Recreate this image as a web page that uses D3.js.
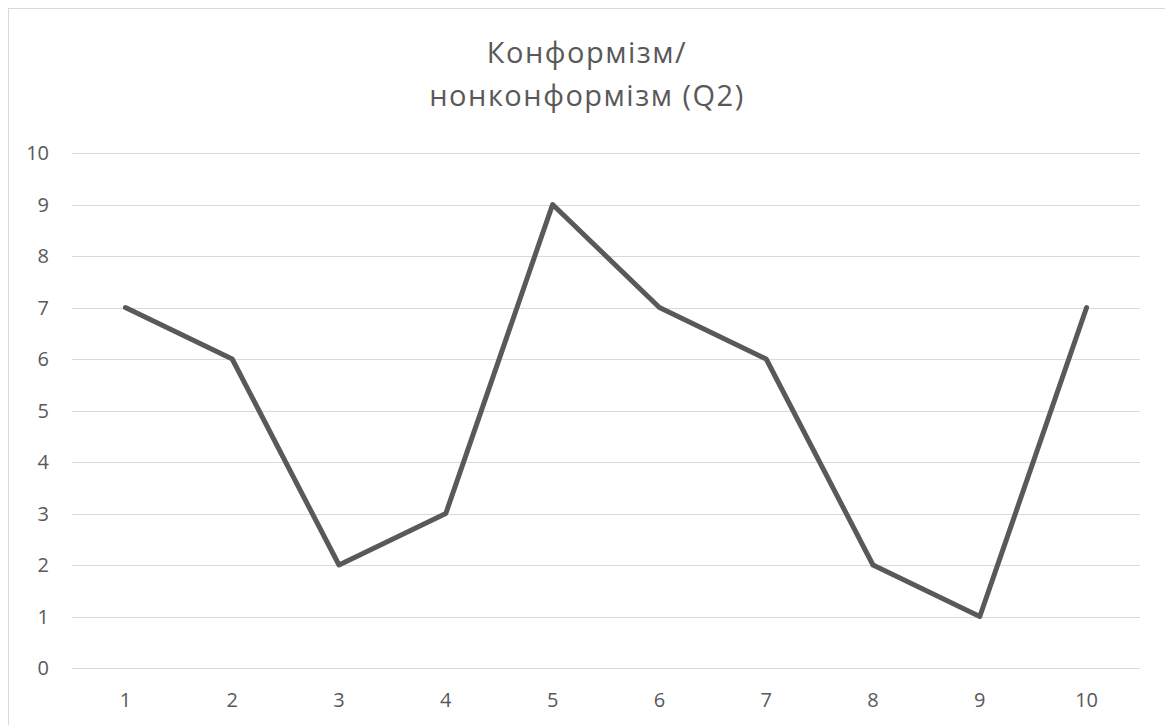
<!DOCTYPE html>
<html><head><meta charset="utf-8">
<script src="https://cdn.jsdelivr.net/npm/d3@7"></script>
<style>body{margin:0;background:#fff}svg{display:block}</style>
</head><body>
<svg id="c" width="1165" height="725"></svg>
<script>
const categories = ["1","2","3","4","5","6","7","8","9","10"];
const values = [7,6,2,3,9,7,6,2,1,7];
const yTicks = [0,1,2,3,4,5,6,7,8,9,10];
const titleLines = ["Конформізм/", "нонконформізм (Q2)"];

(function(){
const svg = d3.select("#c");
svg.append("rect").attr("x",8.5).attr("y",8.5).attr("width",1170).attr("height",730)
  .attr("fill","#fff").attr("stroke","#d9d9d9").attr("stroke-width",1);

const pL=72, pR=1140, pT=153, pB=668;
const x = d3.scaleBand().domain(categories).range([pL,pR]);
const y = d3.scaleLinear().domain([0,10]).range([pB,pT]);
const font = "Open Sans, Noto Sans, sans-serif";

svg.append("g").selectAll("line").data(yTicks).join("line")
  .attr("x1",pL).attr("x2",pR).attr("y1",d=>Math.round(y(d))+0.5).attr("y2",d=>Math.round(y(d))+0.5)
  .attr("stroke","#d9d9d9").attr("stroke-width",1);

svg.append("g").selectAll("text").data(yTicks).join("text")
  .attr("x",49).attr("y",d=>y(d)).attr("dy","0.36em").attr("text-anchor","end")
  .attr("font-family",font).attr("font-size",20).attr("fill","#595959").text(d=>d);

svg.append("g").selectAll("text").data(categories).join("text")
  .attr("x",d=>x(d)+x.bandwidth()/2).attr("y",707).attr("text-anchor","middle")
  .attr("font-family",font).attr("font-size",20).attr("fill","#595959").text(d=>d);

const line = d3.line().x((d,i)=>x(categories[i])+x.bandwidth()/2).y(d=>y(d));
svg.append("path").datum(values).attr("d",line).attr("fill","none")
  .attr("stroke","#595959").attr("stroke-width",5).attr("stroke-linejoin","round").attr("stroke-linecap","round");

svg.append("g").selectAll("text").data(titleLines).join("text")
  .attr("x",587).attr("y",(d,i)=>63+i*43).attr("text-anchor","middle")
  .attr("font-family",font).attr("font-size",29).attr("letter-spacing","1.5px").attr("fill","#595959").text(d=>d);
})();
</script>
</body></html>
